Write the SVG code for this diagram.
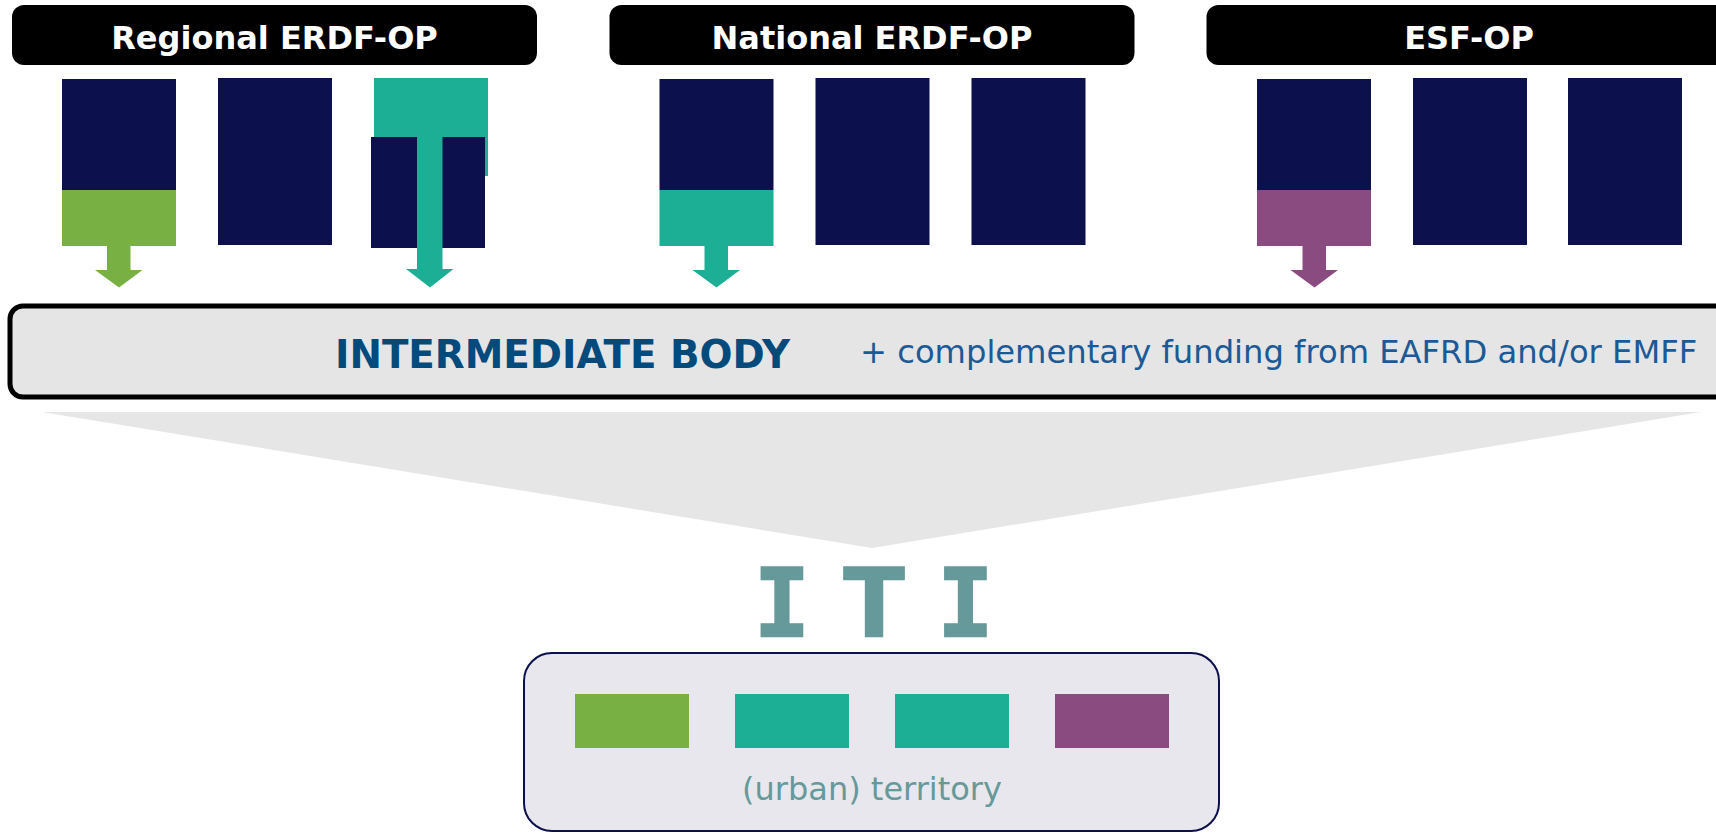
<svg xmlns="http://www.w3.org/2000/svg" width="1716" height="833" viewBox="0 0 1716 833">
  <style>
    .hdr { fill: #000000; }
    .hdr-t { font-family: "DejaVu Sans", Verdana, sans-serif; font-weight: bold; font-size: 32px; fill: #FFFFFF; text-anchor: middle; }
    .navy { fill: #0C104D; }
    .green { fill: #78B043; }
    .teal { fill: #1CAF95; }
    .purple { fill: #8A4B80; }
    .ib { fill: #E5E5E5; stroke: #000000; stroke-width: 5; }
    .ib-t { font-family: "DejaVu Sans", Verdana, sans-serif; font-weight: bold; font-size: 38.8px; fill: #004A7C; }
    .ib-s { font-family: "DejaVu Sans", Verdana, sans-serif; font-size: 32.2px; fill: #1B5A96; }
    .iti { font-family: "Liberation Mono", "Courier New", monospace; font-weight: bold; font-size: 104px; fill: #669999; stroke: #669999; stroke-width: 2.5; text-anchor: middle; }
    .terr { fill: #E8E7EE; stroke: #0C104D; stroke-width: 2; }
    .terr-t { font-family: "DejaVu Sans", Verdana, sans-serif; font-size: 32px; fill: #669999; text-anchor: middle; }
  </style>

  <g id="funnel">
    <polygon points="42,412 1701,412 872,548" fill="#E6E6E6"/>
  </g>

  <g id="regional-erdf-op">
    <rect class="hdr" x="12" y="5" width="525" height="60" rx="12"/>
    <text class="hdr-t" x="274.5" y="49">Regional ERDF-OP</text>
    <rect class="navy" x="62" y="79" width="114" height="111"/>
    <rect class="green" x="62" y="190" width="114" height="56"/>
    <rect class="navy" x="218" y="78" width="114" height="167"/>
    <rect class="teal" x="374" y="78" width="114" height="98"/>
    <rect class="navy" x="371" y="137" width="114" height="111"/>
  </g>

  <g id="national-erdf-op">
    <rect class="hdr" x="609.5" y="5" width="525" height="60" rx="12"/>
    <text class="hdr-t" x="872" y="49">National ERDF-OP</text>
    <rect class="navy" x="659.5" y="79" width="114" height="111"/>
    <rect class="teal" x="659.5" y="190" width="114" height="56"/>
    <rect class="navy" x="815.5" y="78" width="114" height="167"/>
    <rect class="navy" x="971.5" y="78" width="114" height="167"/>
  </g>

  <g id="esf-op">
    <rect class="hdr" x="1206.5" y="5" width="525" height="60" rx="12"/>
    <text class="hdr-t" x="1469" y="49">ESF-OP</text>
    <rect class="navy" x="1257" y="79" width="114" height="111"/>
    <rect class="purple" x="1257" y="190" width="114" height="56"/>
    <rect class="navy" x="1413" y="78" width="114" height="167"/>
    <rect class="navy" x="1568" y="78" width="114" height="167"/>
  </g>

  <g id="connectors">
    <polygon class="green" points="107,245 130.5,245 130.5,270 142.5,270 119,287.5 95,270 107,270"/>
    <polygon class="teal" points="417,137 442.5,137 442.5,269 453.5,269 430,287.5 406,269 417,269"/>
    <polygon class="teal" points="704.5,245 728,245 728,270 740,270 716.5,287.5 692.5,270 704.5,270"/>
    <polygon class="purple" points="1302.5,245 1326,245 1326,270 1338,270 1314.5,287.5 1290.5,270 1302.5,270"/>
  </g>

  <g id="intermediate-body">
    <rect class="ib" x="10" y="306" width="1730" height="91" rx="13"/>
    <text class="ib-t" x="335" y="368">INTERMEDIATE BODY</text>
    <text class="ib-s" x="860" y="363">+ complementary funding from EAFRD and/or EMFF</text>
  </g>

  <g id="iti">
    <text class="iti" transform="translate(782,636) scale(0.87,1)">I</text>
    <text class="iti" transform="translate(874,636) scale(1.05,1)">T</text>
    <text class="iti" transform="translate(965.5,636) scale(0.87,1)">I</text>
  </g>

  <g id="territory">
    <rect class="terr" x="524" y="653" width="695" height="178" rx="28"/>
    <rect class="green" x="575" y="694" width="114" height="54"/>
    <rect class="teal" x="735" y="694" width="114" height="54"/>
    <rect class="teal" x="895" y="694" width="114" height="54"/>
    <rect class="purple" x="1055" y="694" width="114" height="54"/>
    <text class="terr-t" x="872" y="800">(urban) territory</text>
  </g>
</svg>
